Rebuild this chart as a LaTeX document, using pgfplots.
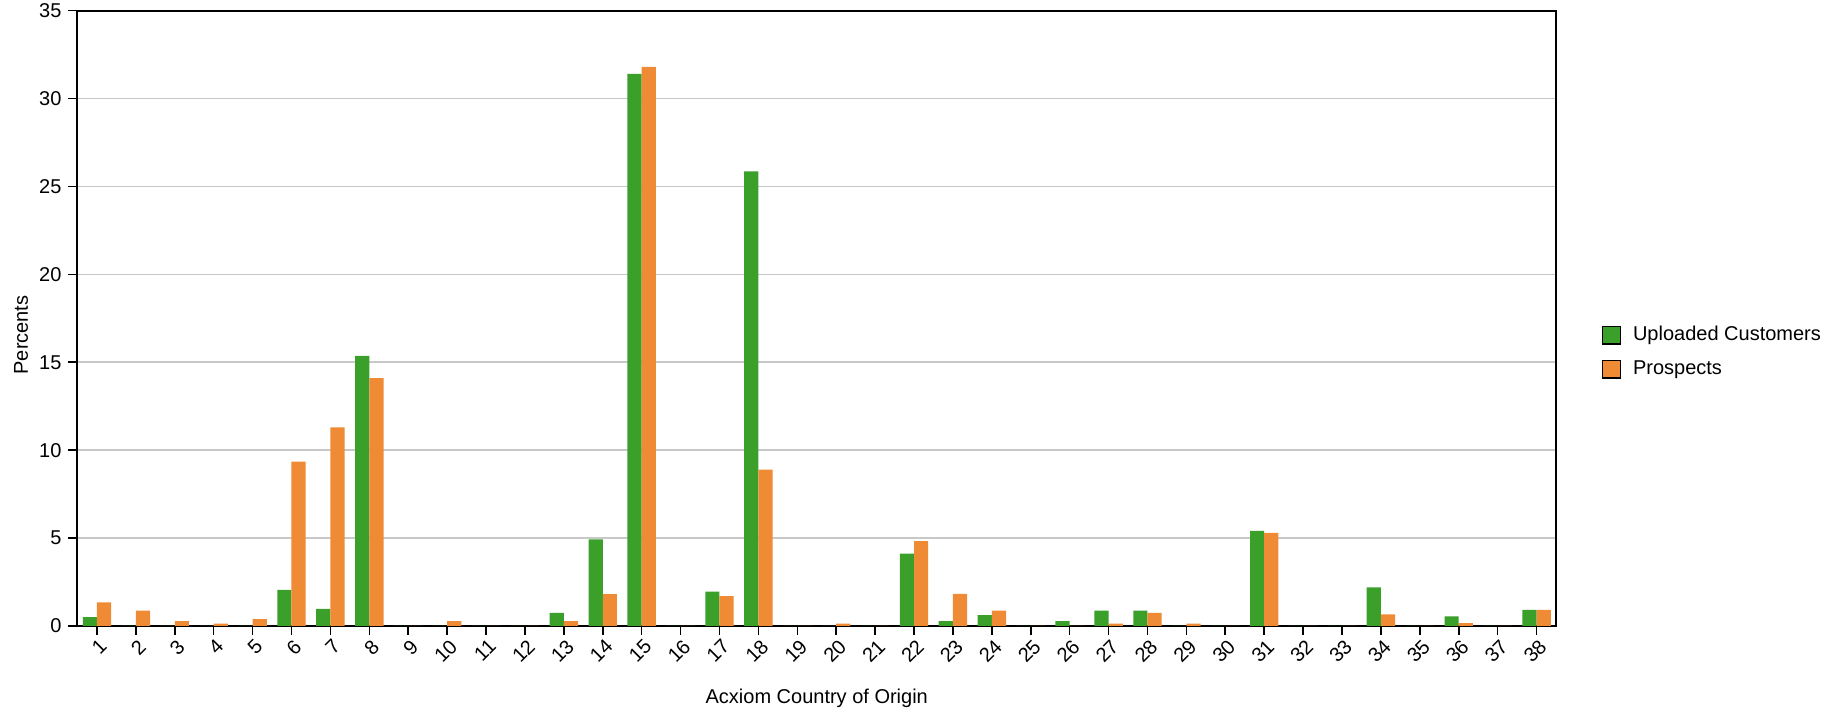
\documentclass[border=0pt]{standalone}
\usepackage{pgfplots}
\pgfplotsset{compat=1.18}
\usepackage{fontspec}
\setmainfont{Liberation Sans}
\definecolor{cgreen}{RGB}{58,160,42}
\definecolor{corange}{RGB}{238,139,52}
\definecolor{cgrid}{RGB}{200,200,200}
\begin{document}
\begin{tikzpicture}
\useasboundingbox (-38.75pt,-44.5pt) rectangle (882.25pt,313pt);
\begin{axis}[
  at={(0,0)}, anchor=south west,
  scale only axis,
  width=739.25pt, height=307.7pt,
  ybar, bar width=7.1pt, bar shift auto,
  ybar=0pt,
  xmin=0.5, xmax=38.5,
  ymin=0, ymax=35,
  ytick={0,5,...,35},
  xtick={1,...,38},
  tick pos=left,
  tick align=outside,
  major tick length=4.5pt,
  tick style={black, line width=0.8pt},
  axis line style={black, line width=1pt},
  ymajorgrids,
  grid style={cgrid, line width=0.8pt},
  /pgf/number format/assume math mode=true,
  ticklabel style={font=\fontsize{10}{12}\selectfont},
  yticklabel style={anchor=east, xshift=-0pt},
  xticklabel style={rotate=45, anchor=north east, inner sep=0.5pt, yshift=-1pt},
  every axis x label/.style={at={(axis description cs:0.5,0)}, yshift=-36pt, anchor=center, font=\fontsize{10}{12}\selectfont},
  every axis y label/.style={at={(axis description cs:-0.0382,0.473)}, rotate=90, anchor=center, font=\fontsize{10}{12}\selectfont},
  xlabel={Acxiom Country of Origin},
  ylabel={Percents},
  legend style={at={(axis description cs:1.031,0.494)}, anchor=north west, draw=none, fill=none,
    font=\fontsize{10}{12}\selectfont, row sep=4.5pt, inner sep=0pt,
    /tikz/every odd column/.append style={column sep=4pt},
    /tikz/every even column/.append style={column sep=0pt}},
  legend cell align=left,
  legend image code/.code={\draw[#1, draw=black, line width=0.6pt] (0pt,-4.4pt) rectangle (8.8pt,4.4pt);},
]
\addplot[fill=cgreen, draw=none] coordinates {
(1,0.50) (2,0) (3,0) (4,0) (5,0) (6,2.05) (7,0.97) (8,15.36) (9,0) (10,0)
(11,0) (12,0) (13,0.74) (14,4.92) (15,31.4) (16,0) (17,1.95) (18,25.85) (19,0) (20,0)
(21,0) (22,4.12) (23,0.27) (24,0.62) (25,0) (26,0.27) (27,0.88) (28,0.88) (29,0) (30,0)
(31,5.41) (32,0) (33,0) (34,2.20) (35,0) (36,0.54) (37,0) (38,0.91)
};
\addplot[fill=corange, draw=none] coordinates {
(1,1.34) (2,0.87) (3,0.27) (4,0.14) (5,0.39) (6,9.35) (7,11.29) (8,14.1) (9,0) (10,0.27)
(11,0) (12,0) (13,0.27) (14,1.81) (15,31.8) (16,0) (17,1.70) (18,8.9) (19,0) (20,0.14)
(21,0) (22,4.82) (23,1.82) (24,0.88) (25,0) (26,0) (27,0.14) (28,0.74) (29,0.14) (30,0)
(31,5.29) (32,0) (33,0) (34,0.66) (35,0) (36,0.17) (37,0) (38,0.91)
};
\legend{Uploaded Customers, Prospects}
\end{axis}
\end{tikzpicture}
\end{document}
